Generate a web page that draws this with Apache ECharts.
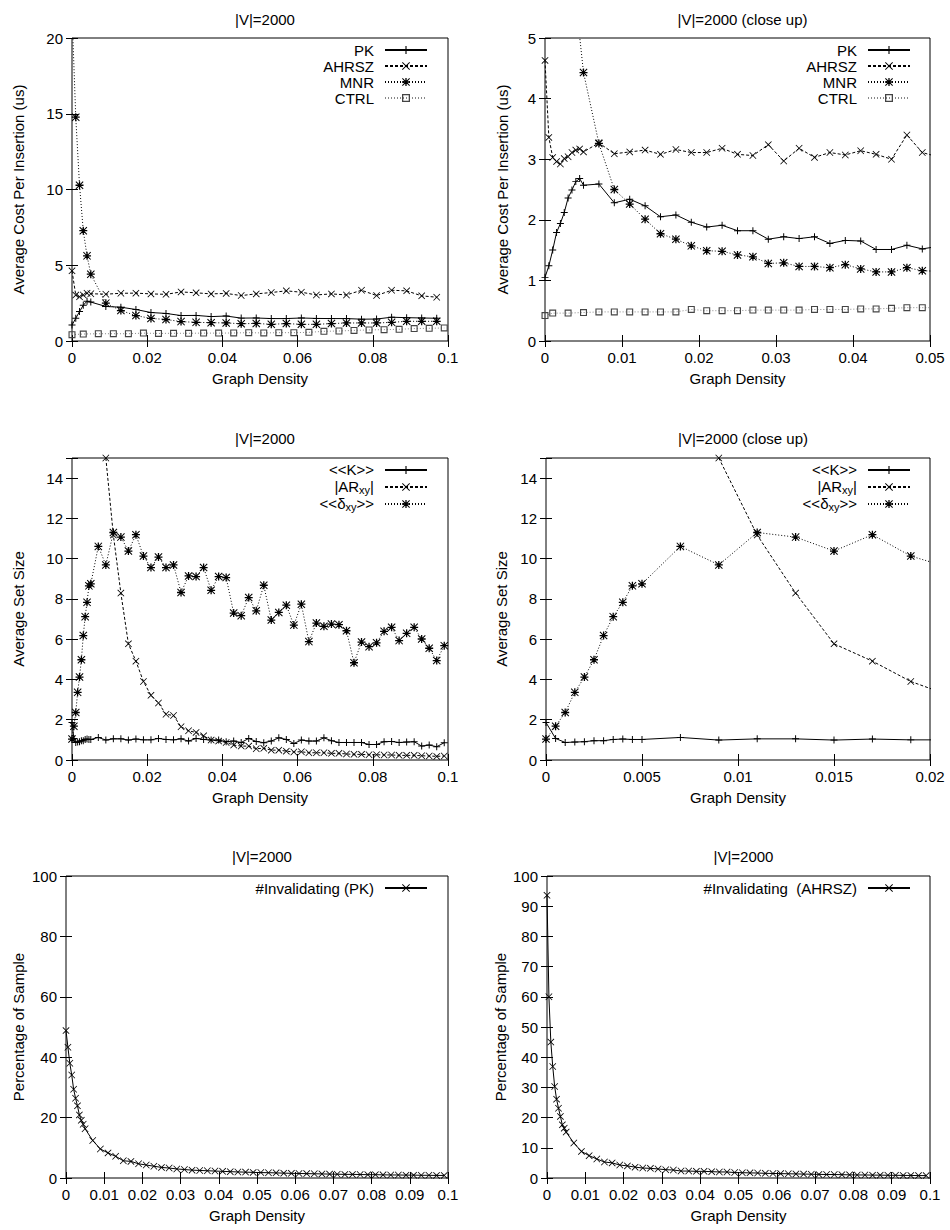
<!DOCTYPE html>
<html><head><meta charset="utf-8">
<script src="https://cdn.jsdelivr.net/npm/echarts@6/dist/echarts.min.js"></script>
<style>html,body{margin:0;padding:0;background:#fff}#c{width:950px;height:1230px}</style>
</head><body><div id="c"></div>
<script>
// ---------- Panel 1: cost, full range (0..0.1) ----------
const cost1X     = [0,0.001,0.002,0.003,0.004,0.005,0.009,0.013,0.017,0.021,0.025,0.029,0.033,0.037,0.041,0.045,0.049,0.053,0.057,0.061,0.065,0.069,0.073,0.077,0.081,0.085,0.089,0.093,0.097];
const cost1PK    = [1.05,1.50,1.94,2.36,2.63,2.57,2.28,2.23,2.08,1.88,1.82,1.68,1.69,1.61,1.65,1.51,1.52,1.48,1.48,1.52,1.49,1.48,1.48,1.44,1.45,1.57,1.54,1.52,1.50];
const cost1AHRSZ = [4.63,3.03,2.92,3.04,3.15,3.12,3.09,3.15,3.16,3.11,3.08,3.24,3.18,3.11,3.14,3.00,3.11,3.20,3.31,3.22,3.04,3.11,3.04,3.35,3.00,3.35,3.31,2.98,2.89];
const cost1MNR   = [21.7,14.77,10.28,7.28,5.62,4.41,2.50,2.01,1.68,1.49,1.42,1.28,1.23,1.21,1.19,1.14,1.16,1.10,1.15,1.10,1.10,1.15,1.19,1.19,1.19,1.23,1.30,1.30,1.30];
const cost1CtrlX = [0,0.003,0.007,0.011,0.015,0.019,0.023,0.027,0.031,0.035,0.039,0.043,0.047,0.051,0.055,0.059,0.063,0.067,0.071,0.075,0.079,0.083,0.087,0.091,0.095,0.099];
const cost1CTRL  = [0.42,0.46,0.48,0.48,0.48,0.52,0.50,0.51,0.51,0.52,0.52,0.53,0.55,0.53,0.55,0.55,0.57,0.64,0.66,0.70,0.73,0.75,0.77,0.82,0.84,0.86];

// ---------- Panel 2: cost, close up (0..0.05) ----------
const cost2X     = [0,0.0005,0.001,0.0015,0.002,0.0025,0.003,0.0035,0.004,0.0045,0.005,0.007,0.009,0.011,0.013,0.015,0.017,0.019,0.021,0.023,0.025,0.027,0.029,0.031,0.033,0.035,0.037,0.039,0.041,0.043,0.045,0.047,0.049,0.051];
const cost2PK    = [1.05,1.24,1.50,1.79,1.94,2.12,2.36,2.49,2.63,2.68,2.57,2.59,2.28,2.34,2.23,2.05,2.08,1.96,1.88,1.91,1.82,1.82,1.68,1.72,1.69,1.72,1.61,1.66,1.65,1.51,1.51,1.58,1.52,1.56];
const cost2AHRSZ = [4.63,3.36,3.03,2.96,2.92,3.01,3.04,3.11,3.15,3.17,3.12,3.27,3.09,3.12,3.15,3.08,3.16,3.11,3.11,3.18,3.08,3.06,3.24,2.97,3.18,3.03,3.11,3.07,3.14,3.08,3.00,3.40,3.11,3.04];
const cost2MnrX  = [0,0.001,0.002,0.003,0.004,0.005,0.007,0.009,0.011,0.013,0.015,0.017,0.019,0.021,0.023,0.025,0.027,0.029,0.031,0.033,0.035,0.037,0.039,0.041,0.043,0.045,0.047,0.049,0.051];
const cost2MNR   = [21.7,14.77,10.28,7.28,5.62,4.43,3.26,2.50,2.26,2.01,1.77,1.68,1.57,1.49,1.48,1.42,1.39,1.28,1.29,1.23,1.23,1.21,1.26,1.19,1.14,1.14,1.21,1.16,1.15];
const cost2CtrlX = [0,0.001,0.003,0.005,0.007,0.009,0.011,0.013,0.015,0.017,0.019,0.021,0.023,0.025,0.027,0.029,0.031,0.033,0.035,0.037,0.039,0.041,0.043,0.045,0.047,0.049,0.051];
const cost2CTRL  = [0.42,0.46,0.46,0.47,0.48,0.48,0.48,0.48,0.48,0.48,0.52,0.50,0.50,0.50,0.51,0.51,0.51,0.51,0.52,0.52,0.52,0.53,0.53,0.54,0.55,0.55,0.55];

// ---------- Panels 3 & 4: set sizes ----------
const setX     = [0,0.0005,0.001,0.0015,0.002,0.0025,0.003,0.0035,0.004,0.0045,0.005,0.007,0.009,0.011,0.013,0.015,0.017,0.019,0.021,0.023,0.025,0.027,0.029,0.031,0.033,0.035,0.037,0.039,0.041,0.043,0.045,0.047,0.049,0.051,0.053,0.055,0.057,0.059,0.061,0.063,0.065,0.067,0.069,0.071,0.073,0.075,0.077,0.079,0.081,0.083,0.085,0.087,0.089,0.091,0.093,0.095,0.097,0.099];
const setK     = [1.86,1.07,0.87,0.89,0.91,0.96,0.96,1.02,1.04,1.02,1.02,1.12,0.99,1.05,1.05,0.99,1.04,1.00,1.00,1.07,1.02,1.00,1.05,0.94,1.07,1.02,0.99,0.99,0.91,0.94,0.87,1.07,0.92,0.86,0.94,1.10,1.02,0.82,0.99,0.94,0.94,1.10,0.96,0.87,0.87,0.87,0.87,0.77,0.77,0.91,0.92,0.87,0.89,0.91,0.69,0.74,0.66,0.86];
const setAR    = [null,null,null,null,null,null,null,null,null,null,null,null,15.0,11.17,8.29,5.77,4.91,3.90,3.21,2.83,2.27,2.21,1.65,1.45,1.37,1.20,0.99,0.94,0.87,0.74,0.69,0.69,0.56,0.58,0.49,0.49,0.44,0.40,0.41,0.36,0.36,0.36,0.33,0.33,0.30,0.28,0.28,0.26,0.26,0.25,0.25,0.23,0.23,0.23,0.21,0.20,0.18,0.20];
const setDelta = [1.04,1.68,2.36,3.36,4.12,4.98,6.18,7.12,7.83,8.65,8.75,10.61,9.69,11.30,11.07,10.38,11.19,10.13,9.56,10.08,9.56,9.69,8.32,9.14,9.11,9.56,8.43,9.11,9.06,7.30,7.17,8.07,7.41,8.68,6.95,7.33,7.69,6.70,7.74,5.88,6.80,6.64,6.75,6.72,6.42,4.83,5.86,5.63,5.82,6.39,6.59,5.93,6.29,6.59,6.01,5.55,4.94,5.68];

// ---------- Panels 5 & 6: invalidating percentage ----------
const invX     = setX;
const invPK    = [48.8,43.3,38.0,34.1,29.4,26.4,23.9,20.9,19.1,17.8,16.3,12.4,9.6,8.3,7.2,5.7,5.5,4.7,4.3,3.9,3.5,3.3,3.0,2.8,2.6,2.5,2.4,2.3,2.2,2.1,2.0,1.95,1.85,1.8,1.75,1.7,1.6,1.55,1.5,1.45,1.4,1.35,1.3,1.25,1.2,1.2,1.15,1.1,1.1,1.05,1.0,1.0,0.95,0.95,0.9,0.9,0.85,0.85];
const invAHRSZ = [93.6,60.0,45.0,36.9,30.3,26.1,23.1,20.4,17.6,16.5,15.2,11.6,8.8,7.4,6.3,5.3,5.0,4.3,4.0,3.6,3.3,3.2,3.0,2.75,2.65,2.3,2.3,2.2,2.2,2.1,2.0,2.0,1.8,1.75,1.7,1.65,1.55,1.5,1.45,1.4,1.35,1.3,1.25,1.2,1.15,1.15,1.1,1.05,1.0,1.0,0.95,0.95,0.9,0.9,0.85,0.85,0.8,0.8];

// ---------- text ----------
const titles = ['|V|=2000','|V|=2000 (close up)','|V|=2000','|V|=2000 (close up)','|V|=2000','|V|=2000'];
const xName = 'Graph Density';
const yNames = ['Average Cost Per Insertion (us)','Average Cost Per Insertion (us)','Average Set Size','Average Set Size','Percentage of Sample','Percentage of Sample'];

// ---------- build ----------
const FONT = '"Liberation Sans", Arial, Helvetica, sans-serif';
const TXT = {fontFamily: FONT, fontSize: 15, color: '#000'};
const PLUS  = 'M4.3,0H5.7V4.3H10V5.7H5.7V10H4.3V5.7H0V4.3H4.3Z';
const CROSS = 'M0,0.8L0.8,0L5,4.2L9.2,0L10,0.8L5.8,5L10,9.2L9.2,10L5,5.8L0.8,10L0,9.2L4.2,5Z';
const PLUS2 = 'M4.2,0H5.8V4.2H10V5.8H5.8V10H4.2V5.8H0V4.2H4.2Z';
const CROSS2= 'M0,0.9L0.9,0L5,4.1L9.1,0L10,0.9L5.9,5L10,9.1L9.1,10L5,5.9L0.9,10L0,9.1L4.1,5Z';
const BOX   = 'M0,0H10V10H0ZM1.6,1.6V8.4H8.4V1.6Z';
const SYM_PLUS = 'path://' + PLUS, SYM_CROSS = 'path://' + CROSS, SYM_STAR = 'path://' + PLUS2 + CROSS2, SYM_BOX = 'path://' + BOX;

function zip(xs, ys){ const o=[]; for(let i=0;i<xs.length;i++){ if(ys[i]!==null && ys[i]!==undefined) o.push([xs[i], ys[i]]); } return o; }

const grids = [
  {left:72,  top:38,  width:376, height:303},
  {left:545, top:38,  width:385, height:303},
  {left:72,  top:458, width:376, height:302},
  {left:546, top:458, width:384, height:302},
  {left:66,  top:876, width:382, height:302},
  {left:547, top:876, width:383, height:302}
];
const xCfg = [{max:0.1,int:0.02},{max:0.05,int:0.01},{max:0.1,int:0.02},{max:0.02,int:0.005},{max:0.1,int:0.01},{max:0.1,int:0.01}];
const yCfg = [{max:20,int:5,gap:46},{max:5,int:1,gap:35},{max:15,int:2,gap:46},{max:15,int:2,gap:37},{max:100,int:20,gap:40},{max:100,int:10,gap:39}];

const xAxis=[], yAxis=[], title=[];
grids.forEach((g,i)=>{
  g.show = true; g.borderColor = '#000'; g.borderWidth = 1; g.backgroundColor = 'transparent'; g.containLabel = false;
  const tick = {show:true, inside:true, length:6, lineStyle:{color:'#000', width:1}};
  xAxis.push({type:'value', gridIndex:i, position:'bottom', min:0, max:xCfg[i].max, interval:xCfg[i].int,
    axisLine:{show:false}, axisTick:tick, splitLine:{show:false},
    axisLabel:Object.assign({margin:9}, TXT),
    name:xName, nameLocation:'middle', nameGap:30, nameTextStyle:TXT});
  xAxis.push({type:'value', gridIndex:i, position:'top', min:0, max:xCfg[i].max, interval:xCfg[i].int,
    axisLine:{show:false}, axisTick:tick, splitLine:{show:false}, axisLabel:{show:false}});
  const ymax = yCfg[i].max;
  yAxis.push({type:'value', gridIndex:i, position:'left', min:0, max:ymax, interval:yCfg[i].int,
    axisLine:{show:false}, axisTick:tick, splitLine:{show:false},
    axisLabel:Object.assign({margin:9, formatter:v=> (v===15 && ymax===15) ? '' : String(v)}, TXT),
    name:yNames[i], nameLocation:'middle', nameGap:yCfg[i].gap, nameTextStyle:TXT});
  yAxis.push({type:'value', gridIndex:i, position:'right', min:0, max:ymax, interval:yCfg[i].int,
    axisLine:{show:false}, axisTick:tick, splitLine:{show:false}, axisLabel:{show:false}});
  title.push({text:titles[i], left:g.left + g.width/2, top:7, textAlign:'center',
    textStyle:Object.assign({fontWeight:'normal'}, TXT)});
});
title[2].top = 426; title[3].top = 426; title[4].top = 844; title[5].top = 844;

function line(name, gi, data, sym, size, dash, col, lcol){
  return {type:'line', name:name, xAxisIndex:gi*2, yAxisIndex:gi*2, data:data, symbol:sym, symbolSize:size,
    showAllSymbol:true, clip:true, silent:true, animation:false,
    lineStyle:{color:lcol||col||'#000', width:1, type:dash},
    itemStyle:{color:col||'#000', borderWidth:0},
    emphasis:{disabled:true}};
}

const series = [
  line('PK',0,zip(cost1X,cost1PK),SYM_PLUS,7,'solid'),
  line('AHRSZ',0,zip(cost1X,cost1AHRSZ),SYM_CROSS,7,[3,2]),
  line('MNR',0,zip(cost1X,cost1MNR),SYM_STAR,8,[1,2]),
  line('CTRL',0,zip(cost1CtrlX,cost1CTRL),SYM_BOX,7,[1,2],'#444','#888'),
  line('PK',1,zip(cost2X,cost2PK),SYM_PLUS,7,'solid'),
  line('AHRSZ',1,zip(cost2X,cost2AHRSZ),SYM_CROSS,7,[3,2]),
  line('MNR',1,zip(cost2MnrX,cost2MNR),SYM_STAR,8,[1,2]),
  line('CTRL',1,zip(cost2CtrlX,cost2CTRL),SYM_BOX,7,[1,2],'#444','#888'),
  line('K',2,zip(setX,setK),SYM_PLUS,7,'solid'),
  line('AR',2,zip(setX,setAR),SYM_CROSS,7,[3,2]),
  line('D',2,zip(setX,setDelta),SYM_STAR,8,[1,2]),
  line('K',3,zip(setX,setK),SYM_PLUS,7,'solid'),
  line('AR',3,zip(setX,setAR),SYM_CROSS,7,[3,2]),
  line('D',3,zip(setX,setDelta),SYM_STAR,8,[1,2]),
  line('INVPK',4,zip(invX,invPK),SYM_CROSS,7,'solid'),
  line('INVAH',5,zip(invX,invAHRSZ),SYM_CROSS,7,'solid')
];

const legendNames = {K:'{n|<<K>>}', AR:'{n||AR}{s|xy}{n||}', D:'{n|<<δ}{s|xy}{n|>>}', INVPK:'#Invalidating (PK)', INVAH:'#Invalidating  (AHRSZ)'};
const legBase = {orient:'vertical', align:'right', itemWidth:42, itemHeight:10, itemGap:0, selectedMode:false,
  padding:0, formatter:n=>legendNames[n]||n,
  textStyle:Object.assign({padding:[0,6,0,0], lineHeight:16, rich:{
    n:{fontFamily:FONT, fontSize:15, color:'#000', lineHeight:16, verticalAlign:'top'},
    s:{fontFamily:FONT, fontSize:11, color:'#000', lineHeight:16, verticalAlign:'bottom', padding:[6,0,0,0]}
  }}, TXT)};
const legend = [
  Object.assign({}, legBase, {data:['PK','AHRSZ','MNR','CTRL'], right:522, top:42}),
  Object.assign({}, legBase, {data:['PK','AHRSZ','MNR','CTRL'], right:39, top:42}),
  Object.assign({}, legBase, {data:['K','AR','D'], right:522, top:462}),
  Object.assign({}, legBase, {data:['K','AR','D'], right:39, top:462}),
  Object.assign({}, legBase, {data:['INVPK'], right:522, top:880}),
  Object.assign({}, legBase, {data:['INVAH'], right:39, top:880})
];

const chart = echarts.init(document.getElementById('c'), null, {renderer:'svg'});
chart.setOption({animation:false, backgroundColor:'#fff', textStyle:{fontFamily:FONT},
  title:title, grid:grids, xAxis:xAxis, yAxis:yAxis, legend:legend, series:series});
</script></body></html>
